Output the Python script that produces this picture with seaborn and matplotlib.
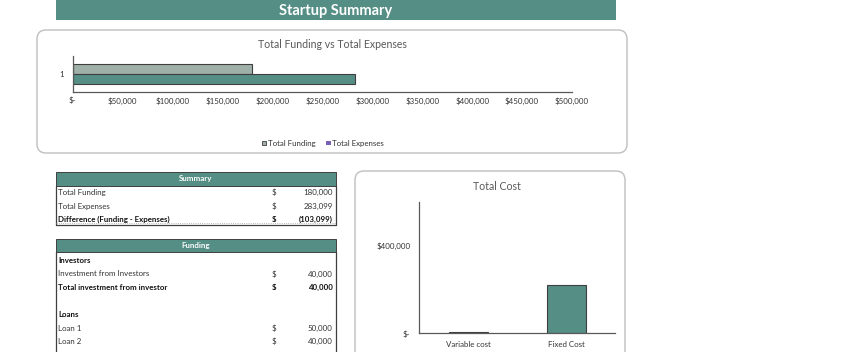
import matplotlib
matplotlib.use("Agg")
import matplotlib.pyplot as plt
import numpy as np
import pandas as pd
import seaborn as sns
from matplotlib.patches import FancyBboxPatch, Rectangle, Patch
from matplotlib.ticker import FuncFormatter

# ---------------- data ----------------
page_title = "Startup Summary"
top_chart_title = "Total Funding vs Total Expenses"
series_names = ["Total Funding", "Total Expenses"]
series_values = [180000, 283099]
bar_category = ["1", "1"]
funding_ticks = [0, 50000, 100000, 150000, 200000, 250000, 300000, 350000, 400000, 450000, 500000]

cost_chart_title = "Total Cost"
cost_categories = ["Variable cost", "Fixed Cost"]
cost_values = [6000, 220000]
cost_ticks = [0, 400000]

summary_title = "Summary"
summary_labels = ["Total Funding", "Total Expenses", "Difference (Funding - Expenses)"]
summary_values = ["180,000", "283,099", "(103,099)"]
summary_bold = [False, False, True]

funding_title = "Funding"
funding_labels = ["Investors", "Investment from Investors", "Total investment from investor", "",
                  "Loans", "Loan 1", "Loan 2"]
funding_values = ["", "40,000", "40,000", "", "", "50,000", "40,000"]
funding_bold = [True, False, True, False, True, False, False]

# ---------------- style ----------------
sns.set_style("white")
plt.rcParams['font.family'] = ['Lato', 'DejaVu Sans']

TEAL = "#558E85"
GRAY = "#9FB0A9"
EDGE = "#3F3F3F"
PURPLE = "#7A5FB8"
TXT = "#333333"
FS = 5.7

W, H = 850, 352
fig = plt.figure(figsize=(8.5, 3.52), dpi=100)


def rect(x0, y0, x1, y1):
    return [x0 / W, 1 - y1 / H, (x1 - x0) / W, (y1 - y0) / H]


bg = fig.add_axes([0, 0, 1, 1], zorder=0)
bg.set_xlim(0, W)
bg.set_ylim(H, 0)
bg.axis("off")

# header band
bg.add_patch(Rectangle((56, 0), 560, 20, fc=TEAL, ec="none"))
bg.text(336, 10.5, page_title, ha="center", va="center", color="white",
        fontsize=10.5, fontweight="bold")

# chart boxes
bg.add_patch(FancyBboxPatch((37, 30), 590, 123, boxstyle="round,pad=0,rounding_size=9",
                            ec="#BFBFBF", fc="white", lw=1))
bg.add_patch(FancyBboxPatch((355, 171), 270, 220, boxstyle="round,pad=0,rounding_size=9",
                            ec="#BFBFBF", fc="white", lw=1))
bg.text(332, 44, top_chart_title, ha="center", va="center", fontsize=7.6, color="#595959")
bg.text(497, 186, cost_chart_title, ha="center", va="center", fontsize=7.6, color="#595959")

# ---------------- tables ----------------
TL, TR = 55.7, 336.0


def header(y0, y1, text):
    bg.add_patch(Rectangle((TL, y0), TR - TL, y1 - y0, fc=TEAL, ec=EDGE, lw=0.7))
    bg.text((TL + TR) / 2, (y0 + y1) / 2, text, ha="center", va="center",
            color="white", fontsize=FS, fontweight="bold")


def row(y, label, value, bold):
    w = "bold" if bold else "normal"
    col = "#111111" if bold else TXT
    bg.text(58, y, label, ha="left", va="center", fontsize=FS, fontweight=w, color=col)
    if value:
        bg.text(274.3, y, "$", ha="center", va="center", fontsize=FS, fontweight=w, color=col)
        bg.text(332.7, y, value, ha="right", va="center", fontsize=FS, fontweight=w, color=col)


header(172.3, 185.7, summary_title)
sum_y = [192.3, 206.0, 219.5]
for y, lab, val, b in zip(sum_y, summary_labels, summary_values, summary_bold):
    row(y, lab, val, b)
bg.plot([TL, TL], [185.7, 225.3], color=EDGE, lw=0.9)
bg.plot([TR, TR], [185.7, 225.3], color=EDGE, lw=0.9)
bg.plot([TL, TR], [225.3, 225.3], color=EDGE, lw=0.9)
bg.plot([TL, TR], [223.3, 223.3], color="#A0A0A0", lw=0.6, ls=":")

header(238.5, 252.3, funding_title)
fund_y = [260.7, 274.0, 287.3, 301.0, 314.7, 328.3, 341.7]
for y, lab, val, b in zip(fund_y, funding_labels, funding_values, funding_bold):
    if lab:
        row(y, lab, val, b)
bg.plot([TL, TL], [252.3, 360], color=EDGE, lw=0.9)
bg.plot([TR, TR], [252.3, 360], color=EDGE, lw=0.9)

# ---------------- top chart ----------------
ax1 = fig.add_axes(rect(72.7, 55.7, 572, 91.7), zorder=2)
ax1.set_facecolor("none")
df_top = pd.DataFrame({"cat": bar_category, "series": series_names, "value": series_values})
sns.barplot(data=df_top, x="value", y="cat", hue="series", hue_order=series_names,
            palette=[GRAY, TEAL], orient="h", saturation=1, edgecolor=EDGE,
            linewidth=0.8, legend=False, ax=ax1)
ax1.set_xlim(0, 500000)
ax1.set_ylim(0.72, -0.72)
ax1.set_xticks(funding_ticks)
ax1.xaxis.set_major_formatter(FuncFormatter(lambda v, p: "$-" if v == 0 else f"${v:,.0f}"))
ax1.set_xlabel("")
ax1.set_ylabel("")
for s in ["top", "right"]:
    ax1.spines[s].set_visible(False)
for s in ["left", "bottom"]:
    ax1.spines[s].set_color("#595959")
    ax1.spines[s].set_linewidth(0.9)
ax1.tick_params(axis="x", length=0, labelsize=FS, colors=TXT, pad=3.8)
ax1.tick_params(axis="y", length=0, labelsize=FS, colors=TXT, pad=6.5)
ax1.grid(False)

handles = [Patch(fc=GRAY, ec=EDGE, lw=0.6, label=series_names[0]),
           Patch(fc=PURPLE, ec="none", label=series_names[1])]
ax1.legend(handles=handles, loc="center", bbox_to_anchor=(323 / W, 1 - 143.3 / H),
           bbox_transform=fig.transFigure, ncol=2, frameon=False, fontsize=FS,
           handlelength=0.55, handleheight=0.55, handletextpad=0.25, columnspacing=1.3,
           labelcolor=TXT)

# ---------------- bottom chart ----------------
ax2 = fig.add_axes(rect(419.3, 202.3, 615, 333.3), zorder=2)
ax2.set_facecolor("none")
sns.barplot(x=cost_categories, y=cost_values, color=TEAL, saturation=1, width=0.4,
            edgecolor=EDGE, linewidth=0.8, ax=ax2)
ax2.set_xlim(-0.5, 1.5)
ax2.set_ylim(0, 600000)
ax2.set_yticks(cost_ticks)
ax2.yaxis.set_major_formatter(FuncFormatter(lambda v, p: "$-" if v == 0 else f"${v:,.0f}"))
ax2.set_xlabel("")
ax2.set_ylabel("")
for s in ["top", "right"]:
    ax2.spines[s].set_visible(False)
for s in ["left", "bottom"]:
    ax2.spines[s].set_color("#595959")
    ax2.spines[s].set_linewidth(0.9)
ax2.tick_params(axis="x", length=0, labelsize=FS, colors=TXT, pad=5.5)
ax2.tick_params(axis="y", length=0, labelsize=FS, colors=TXT, pad=6.5)
ax2.grid(False)

fig.savefig("out.png", dpi=100)
